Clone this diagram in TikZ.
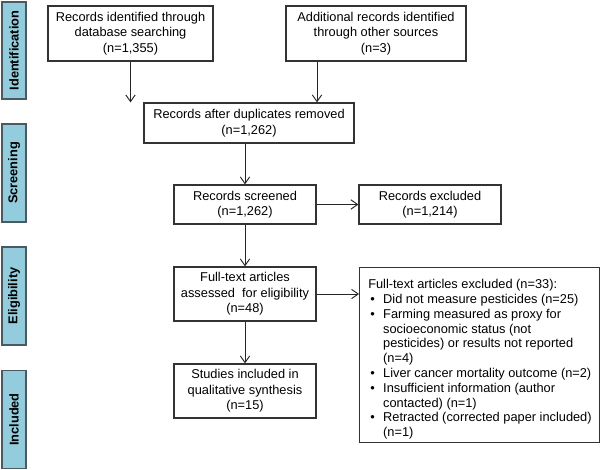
\documentclass[tikz,border=0pt]{standalone}
\usepackage{fontspec}
\setmainfont{Liberation Sans}
\usetikzlibrary{arrows.meta}
\definecolor{sideblue}{HTML}{93CDDD}
\definecolor{sideedge}{HTML}{4A5A60}
\definecolor{boxedge}{HTML}{333333}
\tikzset{
  flowbox/.style={draw=boxedge, line width=0.9pt, fill=white, inner sep=0pt, align=center, font=\fontsize{9.6}{11.7}\selectfont},
  sidebox/.style={draw=sideedge, line width=1pt, fill=sideblue, inner sep=0pt, rotate=90, font=\bfseries\fontsize{9.6}{11.2}\selectfont},
  flowarrow/.style={draw=black!85, line width=0.7pt, -{Straight Barb[length=5pt,width=7pt]}}
}
\begin{document}
\begin{tikzpicture}[x=0.75pt,y=-0.75pt]
\useasboundingbox (0,0) rectangle (600,470);
% side labels
\node[sidebox, minimum width=97*0.75pt, minimum height=24*0.75pt] (sid) at (14,50.5) {Identification};
\node[sidebox, minimum width=98*0.75pt, minimum height=24*0.75pt] (ssc) at (14,173) {Screening};
\node[sidebox, minimum width=98*0.75pt, minimum height=24*0.75pt] (sel) at (14,296) {Eligibility};
\node[sidebox, minimum width=98*0.75pt, minimum height=24*0.75pt] (sin) at (14,419.5) {Included};
% boxes
\node[flowbox, minimum width=165*0.75pt, minimum height=55*0.75pt] (db) at (130.5,33.5) {Records identified through\\database searching\\(n=1,355)};
\node[flowbox, minimum width=180*0.75pt, minimum height=55*0.75pt] (other) at (376,33.5) {Additional records identified\\through other sources\\(n=3)};
\node[flowbox, minimum width=210*0.75pt, minimum height=40*0.75pt] (dup) at (249,123) {Records after duplicates removed\\(n=1,262)};
\node[flowbox, minimum width=142*0.75pt, minimum height=39*0.75pt] (scr) at (245,204.5) {Records screened\\(n=1,262)};
\node[flowbox, minimum width=142*0.75pt, minimum height=39*0.75pt] (exc) at (430,204.5) {Records excluded\\(n=1,214)};
\node[flowbox, minimum width=142*0.75pt, minimum height=54*0.75pt] (full) at (245,294) {Full-text articles\\assessed\ \ for eligibility\\(n=48)};
\node[flowbox, minimum width=142*0.75pt, minimum height=54*0.75pt] (inc) at (245,391) {Studies included in\\qualitative synthesis\\(n=15)};
\node[flowbox, minimum width=240*0.75pt, minimum height=175*0.75pt, align=left, anchor=north west] (fexc) at (359,267) {};
\node[anchor=north west, inner sep=0pt, align=left, font=\fontsize{9.6}{11.1}\selectfont] (fexct) at (368,278) {%
\begin{tabular}{@{}p{11.2pt}@{}l@{}}
\multicolumn{2}{@{}l@{}}{Full-text articles excluded (n=33):}\\
\hspace{1.5pt}•& Did not measure pesticides (n=25)\\
\hspace{1.5pt}•& Farming measured as proxy for\\
 & socioeconomic status (not\\
 & pesticides) or results not reported\\
 & (n=4)\\
\hspace{1.5pt}•& Liver cancer mortality outcome (n=2)\\
\hspace{1.5pt}•& Insufficient information (author\\
 & contacted) (n=1)\\
\hspace{1.5pt}•& Retracted (corrected paper included)\\
 & (n=1)
\end{tabular}};
% arrows
\draw[flowarrow] (db.south) -- (db.south |- dup.north);
\draw[flowarrow] ([xshift=-59*0.75pt]other.south) -- ([xshift=-59*0.75pt]other.south |- dup.north);
\draw[flowarrow] (dup.south -| scr.north) -- (scr.north);
\draw[flowarrow] (scr.east) -- (exc.west);
\draw[flowarrow] (scr.south) -- (full.north);
\draw[flowarrow] (full.east) -- (full.east -| fexc.west);
\draw[flowarrow] (full.south) -- (inc.north);
\end{tikzpicture}
\end{document}
